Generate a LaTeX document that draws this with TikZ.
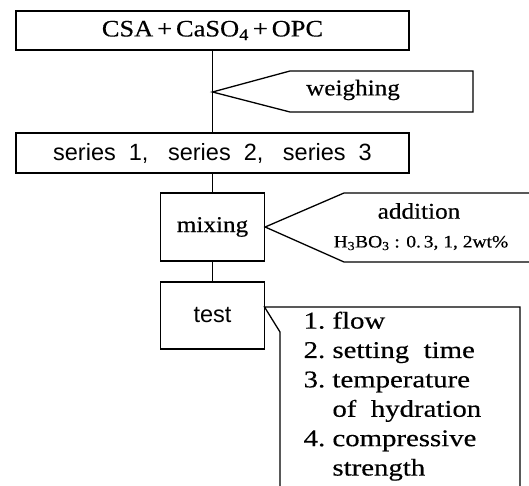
\documentclass[tikz,border=0pt]{standalone}
\usepackage{fontspec}
\setmainfont{Liberation Serif}[FakeStretch=1.12,FakeBold=0.4]
\setsansfont{Liberation Sans}
\newfontfamily\listfont{Liberation Serif}[FakeStretch=1.2,FakeBold=0.4]
\begin{document}
\begin{tikzpicture}[x=1pt,y=-1pt,line width=1.3pt,
  box/.style={draw,rectangle,inner sep=0pt,font=\fontsize{22.5}{26}\selectfont},
  sansbox/.style={box,font=\sffamily\fontsize{23.5}{26}\selectfont},
  lbl/.style={inner sep=0pt,font=\fontsize{22.5}{26}\selectfont},
  small/.style={inner sep=0pt,font=\fontsize{17.4}{20}\selectfont}]
\useasboundingbox (0,0) rectangle (529,486);
\node[box,minimum width=393pt,minimum height=39pt,font=\fontsize{23.6}{26}\selectfont] (top) at (212.5,30.5) {CSA\,+\,CaSO\textsubscript{4}\,+\,OPC};
\node[sansbox,minimum width=393pt,minimum height=40pt] (series) at (212.5,153) {series\ \ 1,\ \ \ series\ \ 2,\ \ \ series\ \ 3};
\node[box,minimum width=104pt,minimum height=68pt] (mixing) at (212.5,227) {mixing};
\node[sansbox,minimum width=104pt,minimum height=67pt] (test) at (212.5,315.5) {test};
\draw (top.south) -- (series.north);
\draw (series.south) -- (mixing.north);
\draw (mixing.south) -- (test.north);
% weighing callout
\coordinate (wtip) at (212.5,92);
\draw[line join=miter] (wtip) -- (290,71) -- (473,71) -- (473,112) -- (290,112) -- cycle;
\node[lbl] (weighing) at (353,90) {weighing};
% addition callout
\draw[line join=miter] (529,193) -- (344,193) -- (mixing.east) -- (344,262) -- (529,262);
\node[lbl] (addition) at (419,211) {addition};
\node[small] (boric) at (421,243) {H\textsubscript{3}BO\textsubscript{3} : 0.\,3, 1, 2wt\%};
% test callout
\coordinate (ttip) at (264.5,307);
\draw[line join=miter] (280,486) -- (280,332) -- (ttip) -- (520,307) -- (520,486);
\node[inner sep=0pt,anchor=north west,align=left,font=\listfont\fontsize{24}{29.4}\selectfont] (list) at (303,311)
  {1.\ flow\\2.\ setting\ \ time\\3.\ temperature\\\phantom{3.\ }of\ \ hydration\\4.\ compressive\\\phantom{4.\ }strength};
\end{tikzpicture}
\end{document}
